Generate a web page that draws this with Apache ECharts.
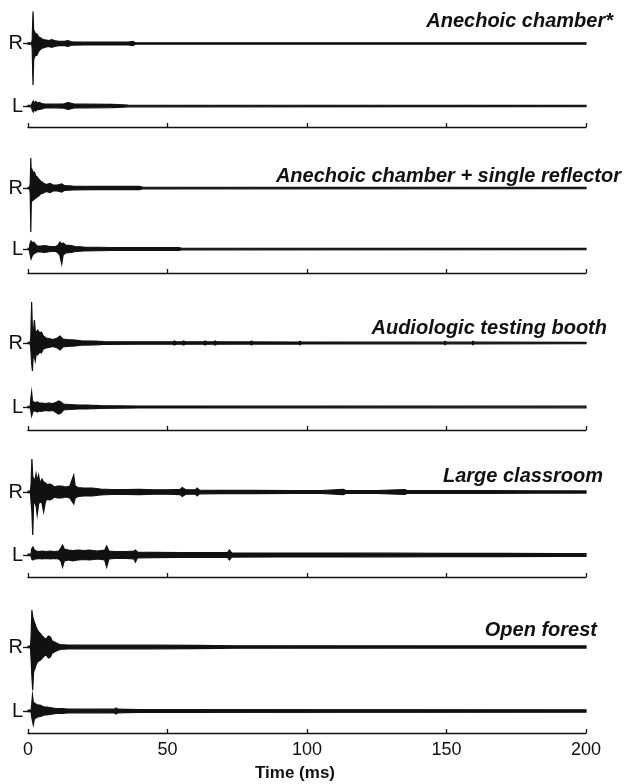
<!DOCTYPE html>
<html>
<head>
<meta charset="utf-8">
<script src="https://cdn.jsdelivr.net/npm/echarts@6/dist/echarts.min.js"></script>
<style>
  html, body { margin: 0; padding: 0; background: #fff; }
  #chart { width: 624px; height: 784px; }
</style>
</head>
<body>
<div id="chart"></div>
<script>
// rooms, top to bottom
const rooms = ['Anechoic chamber*', 'Anechoic chamber + single reflector', 'Audiologic testing booth', 'Large classroom', 'Open forest'];
const ears = ['R', 'L'];
const timeTicks = [0, 50, 100, 150, 200];

// envelope of each impulse response
// [time (ms), peak above baseline, peak below baseline] in arbitrary units
const anechoicR = [[0,0.7,0.7],[1.3,0.8,0.8],[1.5,4,5],[1.8,33,43],[2.1,8,10],[2.4,12,14],[2.8,9,11],[3.2,10,12],[3.8,7,8],[4.5,6,6],[5.4,4,4.5],[6.5,3.5,3.5],[7.5,3,3],[8.5,4,4],[9.5,3,3],[11,2.2,2.2],[13,2.2,2.2],[14.4,3,3],[15.5,1.8,1.8],[20,1.5,1.5],[30,1.5,1.5],[36,1.5,1.5],[37.6,2.2,2.2],[38.5,0.8,0.8],[200,0.7,0.7]];
const anechoicL = [[0,0.7,0.7],[1.2,0.8,0.8],[1.5,3,4],[1.9,5,6],[2.3,3,4],[2.8,4.5,5],[3.3,3,3.5],[4,3.5,3.5],[5,2.5,3],[6,2,2],[8,2,2],[10,1.8,1.8],[13,2.2,2.2],[14.2,3.5,3.5],[15.2,3,3],[16.5,2,2],[20,1.8,1.8],[30,1.6,1.6],[34,1.2,1.2],[36,0.8,0.8],[200,0.7,0.7]];
const reflectorR = [[0,0.7,0.7],[0.6,0.8,0.8],[0.8,5,6],[1.0,30,44],[1.2,10,12],[1.5,18,13],[1.9,15,12],[2.3,16,11],[2.8,12,10],[3.3,11,9],[3.8,9,8],[4.5,7,6],[5.5,5,5],[6.5,3.5,3.5],[7.9,4.5,4.5],[9,3,3],[10.5,3,3],[12.1,4,4],[13,2.5,2.5],[16,2,2],[25,1.6,1.6],[35,1.6,1.6],[40,1.6,1.6],[41,0.8,0.8],[200,0.7,0.7]];
const reflectorL = [[0,0.7,0.7],[0.5,0.8,0.8],[0.7,5,5],[1.1,8,10],[1.5,6,7],[2,7,5],[2.6,5,4],[3.2,3,3],[4.5,3,3],[6,3.5,3.5],[8,2.5,2.5],[10,2.5,2.5],[10.8,4,4],[11.4,7,6],[12.1,5,15],[12.6,6,6],[13.5,4,4],[15.5,3.5,3.5],[17,2.5,2.5],[20,2,2],[30,1.5,1.5],[45,1.5,1.5],[54,1.5,1.5],[55,0.8,0.8],[200,0.7,0.7]];
const boothR = [[0,0.7,0.7],[0.8,0.8,0.8],[1.0,6,6],[1.3,41,20],[1.6,12,28],[1.9,10,10],[2.3,23,14],[2.6,12,18],[3,11,10],[3.5,13,12],[4.2,10,9],[4.8,11,10],[5.5,7,6],[6.5,5,5],[7.5,4.5,4.5],[9,3.5,3.5],[10.5,5,5],[11.5,7,7],[12.5,4,4],[14,3.5,3.5],[17,3,3],[19,2.2,2.2],[24,2,2],[27,1.3,1.3],[40,1.2,1.2],[52,1.2,1.2],[52.5,2,2],[53,1.2,1.2],[55.3,1.2,1.2],[55.8,2,2],[56.3,1.2,1.2],[63,1.2,1.2],[63.5,2,2],[64,1.2,1.2],[66.6,1.2,1.2],[67.1,2,2],[67.6,1.2,1.2],[79.6,1.1,1.1],[80.1,2,2],[80.6,1.1,1.1],[97,1,1],[97.5,1.8,1.8],[98,0.9,0.9],[149,0.8,0.8],[149.5,1.8,1.8],[150,0.8,0.8],[159,0.8,0.8],[159.5,1.8,1.8],[160,0.8,0.8],[200,0.7,0.7]];
const boothL = [[0,0.7,0.7],[0.8,0.8,0.8],[1.0,8,4],[1.3,15,9],[1.6,6,6],[2,5,4],[2.6,4.5,4],[3.3,5,5],[4,4,4],[5,4,4.5],[6,3.5,3.5],[7.5,4,4],[9,3.5,3.5],[10.3,5,6],[11,6,7],[11.8,5,6],[12.7,3,3],[15,2.5,2.5],[18,2,2],[21,2,2],[26,1.3,1.3],[40,1,1],[200,0.8,0.8]];
const classroomR = [[0,0.8,0.8],[0.9,1,1],[1.1,8,10],[1.4,33,20],[1.7,15,43],[2,14,12],[2.4,10,10],[2.9,18,14],[3.3,11,23],[3.8,17,12],[4.3,9,10],[5,13,11],[5.6,10,20],[6.3,9,9],[7,7,7],[7.8,8,8],[8.6,7,7],[9.5,5,5],[10.5,6,6],[12,6,6],[13.5,5,5],[15,6,6],[16.4,17,12],[16.9,6,6],[18,4.5,4.5],[20,4,4],[23,4,4],[26,3,3],[30,2.5,2.5],[35,2.3,2.3],[40,2.6,2.6],[45,2.2,2.2],[50,2.2,2.2],[54.5,2.6,2.6],[55.3,4.5,4.5],[56.5,2.2,2.2],[60,2.2,2.2],[60.6,4,4],[61.5,1.8,1.8],[70,1.6,1.6],[80,1.7,1.7],[95,1.5,1.5],[105,1.5,1.5],[113,2.6,2.6],[114,1.5,1.5],[125,1.5,1.5],[135,2.4,2.4],[136,1.4,1.4],[150,1.3,1.3],[165,1.3,1.3],[180,1.2,1.2],[200,1.1,1.1]];
const classroomL = [[0,0.8,0.8],[1.1,1,1],[1.3,6,4],[1.8,8,5],[2.3,5,4],[3,4,4],[4,3.5,3.5],[5,4,4],[6.5,3.5,3.5],[8,4,4],[9.5,3.5,3.5],[11,4,4],[11.8,7,6],[12.4,10,12],[13,6,6],[14.5,5,5],[16,4.5,6],[18,5,5],[20,4.5,4.5],[22,5,5],[25,4,4],[27.5,5,5],[28.2,9,12],[29,4,4],[31,3.5,3.5],[35,3.5,3.5],[38,4,4],[38.5,5,7],[39.2,3,3],[45,2.6,2.6],[55,2.4,2.4],[65,2.3,2.3],[71.5,2.4,2.4],[72.2,5,5],[73,2.1,2.1],[90,2,2],[110,1.9,1.9],[130,1.8,1.8],[150,1.6,1.6],[170,1.6,1.6],[190,1.5,1.5],[200,1.4,1.4]];
const forestR = [[0,0.8,0.8],[0.9,1,1],[1.1,10,12],[1.4,37,30],[1.7,30,43],[2.0,27,25],[2.4,24,22],[2.9,20,18],[3.4,17,15],[3.9,15,14],[4.5,13,13],[5.1,11,11],[5.8,9,9],[6.5,8,8],[7.3,11,11],[8,10,10],[8.7,6,6],[9.5,5,5],[10.5,3.5,3.5],[11.5,2.5,2.5],[14,2,2],[20,1.8,1.8],[30,1.8,1.8],[45,1.8,1.8],[60,1.6,1.6],[68,1.5,1.5],[75,1.2,1.2],[200,1.1,1.1]];
const forestL = [[0,0.8,0.8],[1.1,1,1],[1.3,6,6],[1.6,16,10],[1.9,9,14],[2.3,8,8],[2.8,7,7],[3.5,6,6],[4.3,6,5.5],[5,5,5],[5.8,4,4],[6.8,4,4],[7.8,3.5,3.5],[9,3,3],[10.5,2.5,2.5],[12.5,2.3,2.3],[14,2,2],[20,1.8,1.8],[25,1.8,1.8],[31,2,2],[31.6,3,3],[32.2,1.8,1.8],[35,1.6,1.6],[40,1.3,1.3],[200,1.2,1.2]];

const traces = [
  [anechoicR, anechoicL],
  [reflectorR, reflectorL],
  [boothR, boothL],
  [classroomR, classroomL],
  [forestR, forestL]
];

// layout (pixels)
const rowR = [42, 188, 343, 492, 647];
const rowL = [106, 249, 407, 555, 711];
const rowAxis = [127, 273, 430, 577, 733];
const titleRight = [11, 3, 17, 21, 27];
const titleTop = [11, 166, 318, 466, 620];
const HALF = 45;
const FONT = '"Liberation Sans", Arial, Helvetica, sans-serif';
const INK = '#111';

const chart = echarts.init(document.getElementById('chart'));

// one filled envelope per trace, mapped through the grid's axes
function traceRenderer(env) {
  return function (params, api) {
    if (params.dataIndex !== 0) return null;
    const upper = env.map(d => api.coord([d[0], d[1]]));
    const lower = env.map(d => api.coord([d[0], -d[2]])).reverse();
    return {
      type: 'polygon',
      shape: { points: upper.concat(lower) },
      style: { fill: INK, stroke: INK, lineWidth: 1.2 }
    };
  };
}

const grid = [], xAxis = [], yAxis = [], series = [];
rooms.forEach((room, p) => {
  ears.forEach((ear, e) => {
    const idx = grid.length;
    const isL = e === 1;
    const base = isL ? rowL[p] : rowR[p];
    const below = isL ? rowAxis[p] - rowL[p] : HALF;
    grid.push({ left: 28, right: 38, top: base - HALF, height: HALF + below });
    const last = p === rooms.length - 1;
    xAxis.push({
      gridIndex: idx, type: 'value', min: 0, max: 200, interval: 50,
      show: isL,
      axisLine: { onZero: false, lineStyle: { color: INK, width: 1.3 } },
      axisTick: { inside: true, length: 4, customValues: timeTicks, lineStyle: { color: INK, width: 1.3 } },
      axisLabel: { show: isL && last, customValues: timeTicks, fontSize: 18, color: INK, margin: 8, fontFamily: FONT },
      splitLine: { show: false },
      name: isL && last ? 'Time (ms)' : '',
      nameLocation: 'middle', nameGap: 32,
      nameTextStyle: { fontSize: 17, fontWeight: 'bold', color: INK, fontFamily: FONT, padding: [0, 24, 0, 0] }
    });
    yAxis.push({
      gridIndex: idx, type: 'value', min: -below, max: HALF,
      axisLine: { show: false },
      splitLine: { show: false },
      axisTick: { show: true, customValues: [0], length: 5, lineStyle: { color: INK, width: 1.3 } },
      axisLabel: { customValues: [0], formatter: () => ear, fontSize: 20, color: INK, margin: 5, fontFamily: FONT }
    });
    const env = traces[p][e];
    series.push({
      type: 'custom', name: room + ' ' + ear,
      xAxisIndex: idx, yAxisIndex: idx,
      data: env,
      encode: { x: 0, y: 1 },
      renderItem: traceRenderer(env),
      silent: true
    });
  });
});

const option = {
  animation: false,
  backgroundColor: '#fff',
  title: rooms.map((room, p) => ({
    text: room, right: titleRight[p], top: titleTop[p], padding: 0,
    textStyle: { fontSize: 20, fontWeight: 'bold', fontStyle: 'italic', color: INK, fontFamily: FONT }
  })),
  grid, xAxis, yAxis, series
};
chart.setOption(option);
</script>
</body>
</html>
